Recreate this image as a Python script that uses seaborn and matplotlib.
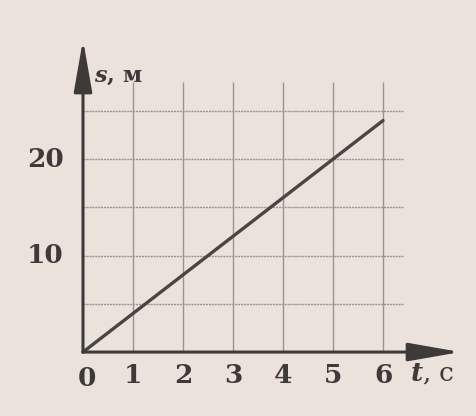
import matplotlib.pyplot as plt
import seaborn as sns

# distance-time data
time_s = [0, 6]
dist_m = [0, 24]

x_ticks = [1, 2, 3, 4, 5, 6]
y_grid = [5, 10, 15, 20, 25]
y_labels = [10, 20]

paper = "#ebe2dc"
ink = "#3f3a3a"
grid = "#9a9494"

sns.set_theme(style="white", rc={"axes.facecolor": paper, "figure.facecolor": paper})
plt.rcParams["font.family"] = ["DejaVu Serif"]
plt.rcParams["mathtext.fontset"] = "dejavuserif"

fig = plt.figure(figsize=(4.76, 4.16), dpi=100)
ax = fig.add_axes([0, 0, 1, 1])
ax.set_xlim(-1.66, 7.86)
ax.set_ylim(-6.63, 36.5)
ax.axis("off")

# grid
ax.vlines(x_ticks, 0, 28, color=grid, lw=1.0, zorder=1)
ax.hlines(y_grid, 0, 6.4, color=grid, lw=1.0, linestyles=(0, (1.5, 0.6)), zorder=1)

# axes with arrows
arrow = dict(arrowstyle="-|>,head_length=1.6,head_width=0.28", color=ink,
             lw=2.2, mutation_scale=20, shrinkA=0, shrinkB=0)
ax.annotate("", xy=(7.55, 0), xytext=(0, 0), arrowprops=arrow, zorder=3)
ax.annotate("", xy=(0, 32.4), xytext=(0, 0), arrowprops=arrow, zorder=3)

sns.lineplot(x=time_s, y=dist_m, ax=ax, color="#4a4545", lw=2.4, zorder=2)

# tick labels
num = dict(ha="center", va="center", fontsize=19, color=ink, fontweight="bold")
for t in x_ticks:
    ax.text(t, -2.4, str(t), **num)
ax.text(0.07, -2.7, "0", **num)
for s in y_labels:
    ax.text(-0.75, s, str(s), **num)

ax.text(0.22, 28.6, "$\\boldsymbol{s}$, м", ha="left", va="center", fontsize=16,
        color=ink, fontweight="bold")
ax.text(6.55, -2.2, "$\\boldsymbol{t}$, c", ha="left", va="center", fontsize=19,
        color=ink)

fig.savefig("out.png", dpi=100, facecolor=paper)
